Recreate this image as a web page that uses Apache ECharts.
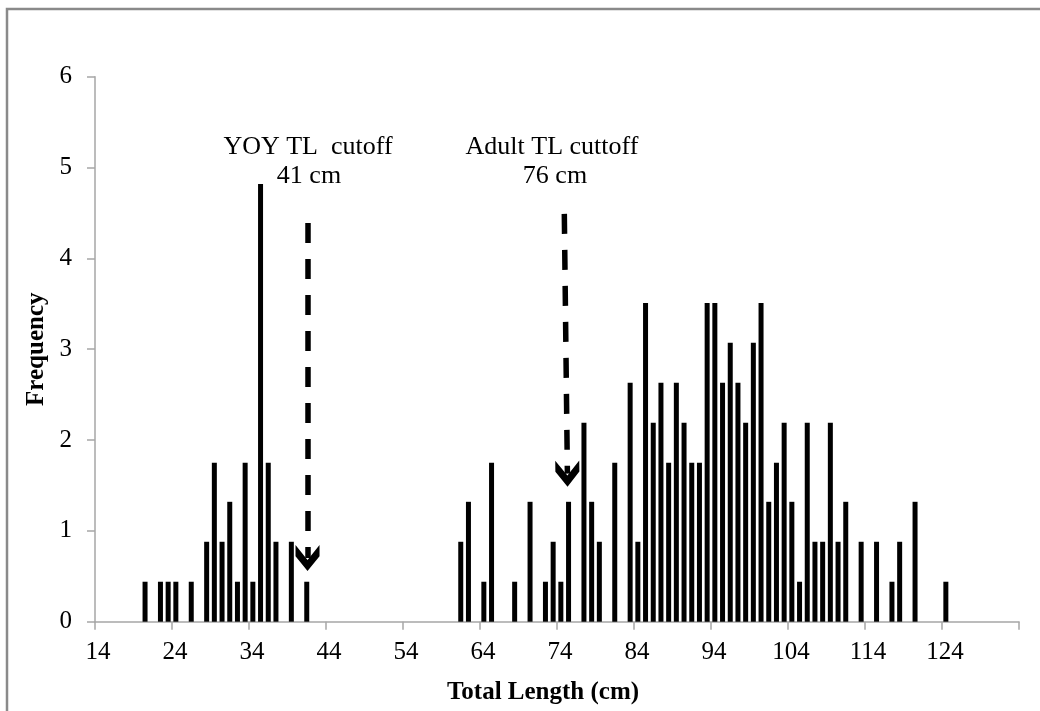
<!DOCTYPE html>
<html>
<head>
<meta charset="utf-8">
<script src="https://cdn.jsdelivr.net/npm/echarts@6/dist/echarts.min.js"></script>
<style>
html,body{margin:0;padding:0;background:#fff;}
#chart{width:1040px;height:711px;}
</style>
</head>
<body>
<div id="chart"></div>
<script>
// Total length (cm) bins and frequency (%)
const lengths = [20,22,23,24,26,28,29,30,31,32,33,34,35,36,37,39,41,
  61,62,64,65,68,70,72,73,74,75,77,78,79,81,83,84,85,86,87,88,89,90,91,92,93,94,95,96,97,98,99,100,
  101,102,103,104,105,106,107,108,109,110,111,113,115,117,118,120,124];
const freqs = [0.44,0.44,0.44,0.44,0.44,0.88,1.75,0.88,1.32,0.44,1.75,0.44,4.82,1.75,0.88,0.88,0.44,
  0.88,1.32,0.44,1.75,0.44,1.32,0.44,0.88,0.44,1.32,2.19,1.32,0.88,1.75,2.63,0.88,3.51,2.19,2.63,1.75,2.63,2.19,1.75,1.75,3.51,3.51,2.63,3.07,2.63,2.19,3.07,3.51,
  1.32,1.75,2.19,1.32,0.44,2.19,0.88,0.88,2.19,0.88,1.32,0.88,0.88,0.44,0.88,1.32,0.44];
const xTickLabels = [14,24,34,44,54,64,74,84,94,104,114,124];
const yTickLabels = [0,1,2,3,4,5,6];
// cutoff arrows: [x top, y top, x head centre, y head centre]
const arrowYOY = [41.6, 4.39, 41.6, 0.70];
const arrowAdult = [74.95, 4.49, 75.35, 1.63];
const annoYOY = ['YOY TL  cutoff', '41 cm'];
const annoAdult = ['Adult TL cuttoff', '76 cm'];

const FONT = '"Liberation Serif","Times New Roman",serif';
const chart = echarts.init(document.getElementById('chart'), null, {renderer:'canvas'});
const barData = lengths.map((l,i)=>[l+0.5, freqs[i]]);
const chevron = 'path://M50,0 L100,46 L100,80 L50,34 L0,80 L0,46 Z';

chart.setOption({
  animation:false,
  backgroundColor:'#fff',
  grid:{left:95, right:21, top:76.7, bottom:89.3, containLabel:false},
  xAxis:{
    type:'value', min:14, max:134, interval:10,
    name:'Total Length (cm)', nameLocation:'middle', nameGap:58,
    nameTextStyle:{fontFamily:FONT, fontWeight:'bold', fontSize:25, color:'#000', padding:[0,28,0,0]},
    axisLine:{show:true, lineStyle:{color:'#a6a6a6', width:1.5}},
    axisTick:{show:true, length:8, lineStyle:{color:'#a6a6a6', width:1.5}},
    axisLabel:{fontFamily:FONT, fontSize:25, color:'#000', margin:18, padding:[0,0,0,6],
      formatter:v=> xTickLabels.indexOf(v)>=0 ? String(v) : ''},
    splitLine:{show:false}
  },
  yAxis:{
    type:'value', min:0, max:6, interval:1,
    name:'Frequency', nameLocation:'middle', nameGap:46,
    nameTextStyle:{fontFamily:FONT, fontWeight:'bold', fontSize:25, color:'#000'},
    axisLine:{show:true, lineStyle:{color:'#a6a6a6', width:1.5}},
    axisTick:{show:true, length:8, lineStyle:{color:'#a6a6a6', width:1.5}},
    axisLabel:{fontFamily:FONT, fontSize:25, color:'#000', margin:23,
      formatter:v=> yTickLabels.indexOf(v)>=0 ? String(v) : ''},
    splitLine:{show:false}
  },
  series:[{
    type:'bar', data:barData, barWidth:5, itemStyle:{color:'#000'},
    markLine:{
      silent:true, animation:false,
      symbol:['none', chevron], symbolSize:[24,26],
      label:{show:false},
      lineStyle:{color:'#000', width:5.5, type:[20,16]},
      data:[
        [{coord:[arrowYOY[0], arrowYOY[1]]},{coord:[arrowYOY[2], arrowYOY[3]]}],
        [{coord:[arrowAdult[0], arrowAdult[1]]},{coord:[arrowAdult[2], arrowAdult[3]]}]
      ]
    }
  }],
  graphic:[
    {type:'rect', shape:{x:7, y:9, width:1100, height:800}, style:{fill:null, stroke:'#8a8a8a', lineWidth:2.5}, silent:true},
    {type:'text', x:308, y:147, style:{text:annoYOY[0], font:'26px '+FONT, fill:'#000', textAlign:'center', textVerticalAlign:'middle'}},
    {type:'text', x:309, y:176, style:{text:annoYOY[1], font:'26px '+FONT, fill:'#000', textAlign:'center', textVerticalAlign:'middle'}},
    {type:'text', x:552, y:147, style:{text:annoAdult[0], font:'26px '+FONT, fill:'#000', textAlign:'center', textVerticalAlign:'middle'}},
    {type:'text', x:555, y:176, style:{text:annoAdult[1], font:'26px '+FONT, fill:'#000', textAlign:'center', textVerticalAlign:'middle'}}
  ]
});
</script>
</body>
</html>
